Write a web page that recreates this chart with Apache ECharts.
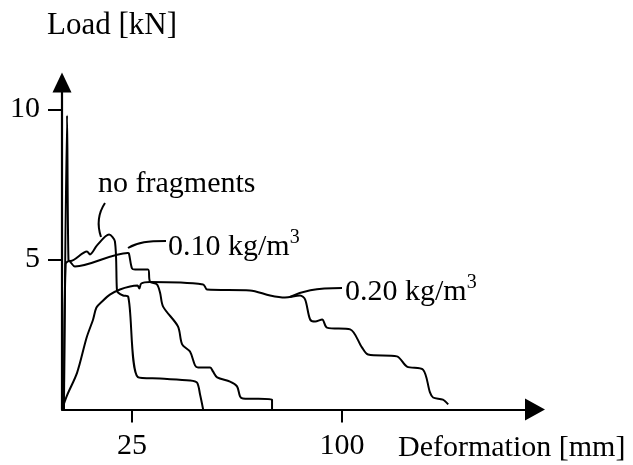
<!DOCTYPE html>
<html>
<head>
<meta charset="utf-8">
<script src="https://cdn.jsdelivr.net/npm/echarts@6/dist/echarts.min.js"></script>
<style>
  html, body { margin: 0; padding: 0; background: #fff; }
  #chart { width: 633px; height: 465px; }
</style>
</head>
<body>
<div id="chart"></div>
<script>
// Load–deformation curves for three fragment dosages
const seriesNames = ['no fragments', '0.10 kg/m3', '0.20 kg/m3'];

const defNoFrag  = [0.7, 1.8, 2.3, 3.0, 8.9, 10.0, 12.5, 16.8, 18.9, 19.6, 20.0, 21.8, 23.6, 27.1, 35.0, 45.7, 48.2, 49.3, 50.4];
const loadNoFrag = [0, 9.8, 5.0, 4.95, 5.27, 5.17, 5.47, 5.83, 5.6, 4.0, 3.9, 3.8, 3.77, 1.08, 1.03, 0.97, 0.9, 0.5, 0];

const def010  = [0.7, 1.3, 2.5, 4.6, 23.5, 23.9, 25.0, 26.1, 30.7, 31.4, 33.9, 35.0, 36.1, 41.4, 42.9, 45.7, 47.5, 48.6, 52.9, 53.9, 55.4, 60.0, 62.5, 63.6, 64.6, 75.0, 75.0];
const load010 = [0, 4.85, 4.95, 4.77, 5.22, 5.2, 4.7, 4.67, 4.67, 4.27, 4.17, 3.9, 3.43, 2.77, 2.17, 1.93, 1.47, 1.4, 1.4, 1.27, 1.07, 0.93, 0.77, 0.43, 0.37, 0.33, 0];

const def020  = [0, 1.8, 5.4, 8.8, 11.1, 12.3, 14.3, 17.1, 20.7, 24.3, 27.0, 27.6, 28.3, 31.4, 50.4, 51.8, 67.1, 74.3, 79.6, 85.0, 86.8, 88.6, 90.4, 92.9, 94.6, 102.9, 107.1, 109.3, 119.6, 123.2, 128.9, 131.4, 132.5, 136.0, 137.9];
const load020 = [0, 0.47, 1.23, 2.4, 3.0, 3.4, 3.6, 3.83, 4.0, 4.1, 4.13, 4.03, 4.2, 4.25, 4.17, 4.0, 3.97, 3.8, 3.73, 3.8, 3.67, 3.0, 2.93, 3.0, 2.73, 2.67, 2.07, 1.83, 1.77, 1.43, 1.33, 0.57, 0.4, 0.33, 0.17];

const xTicks = [25, 100];
const yTicks = [5, 10];

const FONT = 'Liberation Serif, Times New Roman, serif';
const pairs = (xs, ys) => xs.map((x, i) => [x, ys[i]]);

const curves = [
  { name: seriesNames[0], data: pairs(defNoFrag, loadNoFrag) },
  { name: seriesNames[1], data: pairs(def010, load010) },
  { name: seriesNames[2], data: pairs(def020, load020) }
];

const chart = echarts.init(document.getElementById('chart'), null, { renderer: 'canvas' });

const axisCommon = {
  type: 'value',
  min: 0,
  splitLine: { show: false },
  axisLine: {
    show: true,
    symbol: ['none', 'triangle'],
    lineStyle: { color: '#000', width: 2.2 }
  },
  axisTick: { show: true, length: 14, lineStyle: { color: '#000', width: 2 } },
  axisLabel: { color: '#000', fontFamily: FONT, fontSize: 30 }
};

// label with a superscript "3"
const supLabel = (x, y, text) => ({
  type: 'text', x: x, y: y,
  style: {
    text: text + ' kg/m{s|3}', font: '30px ' + FONT, lineHeight: 38, fill: '#000',
    align: 'left', verticalAlign: 'middle',
    rich: { s: { fontSize: 20, fontFamily: FONT, lineHeight: 20, verticalAlign: 'top', fill: '#000' } }
  }
});

const leader = (x1, y1, cpx1, cpy1, cpx2, cpy2, x2, y2) => ({
  type: 'bezierCurve',
  shape: { x1, y1, cpx1, cpy1, cpx2, cpy2, x2, y2 },
  style: { stroke: '#000', lineWidth: 2, fill: null }
});

chart.setOption({
  animation: false,
  backgroundColor: '#fff',
  grid: { left: 62, right: 98, top: 82.5, bottom: 55.5 },
  xAxis: Object.assign({}, axisCommon, {
    max: 168.9,
    axisLine: Object.assign({}, axisCommon.axisLine, { symbolSize: [22, 20] }),
    axisTick: Object.assign({}, axisCommon.axisTick, { length: 13, customValues: xTicks }),
    axisLabel: Object.assign({}, axisCommon.axisLabel, { margin: 22, customValues: xTicks })
  }),
  yAxis: Object.assign({}, axisCommon, {
    max: 10.9,
    axisLine: Object.assign({}, axisCommon.axisLine, { symbolSize: [19, 20] }),
    axisTick: Object.assign({}, axisCommon.axisTick, { customValues: yTicks }),
    axisLabel: Object.assign({}, axisCommon.axisLabel, { margin: 22, customValues: yTicks })
  }),
  series: curves.map(c => ({
    type: 'line',
    name: c.name,
    data: c.data,
    symbol: 'none',
    smooth: 0.3,
    lineStyle: { color: '#000', width: 2 },
    z: 3
  })),
  graphic: [
    { type: 'text', x: 47, y: 26, style: { text: 'Load [kN]', font: '31px ' + FONT, fill: '#000', align: 'left', verticalAlign: 'middle' } },
    { type: 'text', x: 398, y: 448, style: { text: 'Deformation [mm]', font: '30px ' + FONT, fill: '#000', align: 'left', verticalAlign: 'middle' } },
    { type: 'text', x: 98, y: 184, style: { text: seriesNames[0], font: '30px ' + FONT, fill: '#000', align: 'left', verticalAlign: 'middle' } },
    supLabel(168, 247, '0.10'),
    supLabel(345, 292, '0.20'),
    leader(105, 203, 97, 215, 98, 228, 101, 237),
    leader(128, 248, 138, 242, 148, 241, 166, 241),
    leader(290, 297, 302, 291, 315, 288, 342, 288)
  ]
});
</script>
</body>
</html>
